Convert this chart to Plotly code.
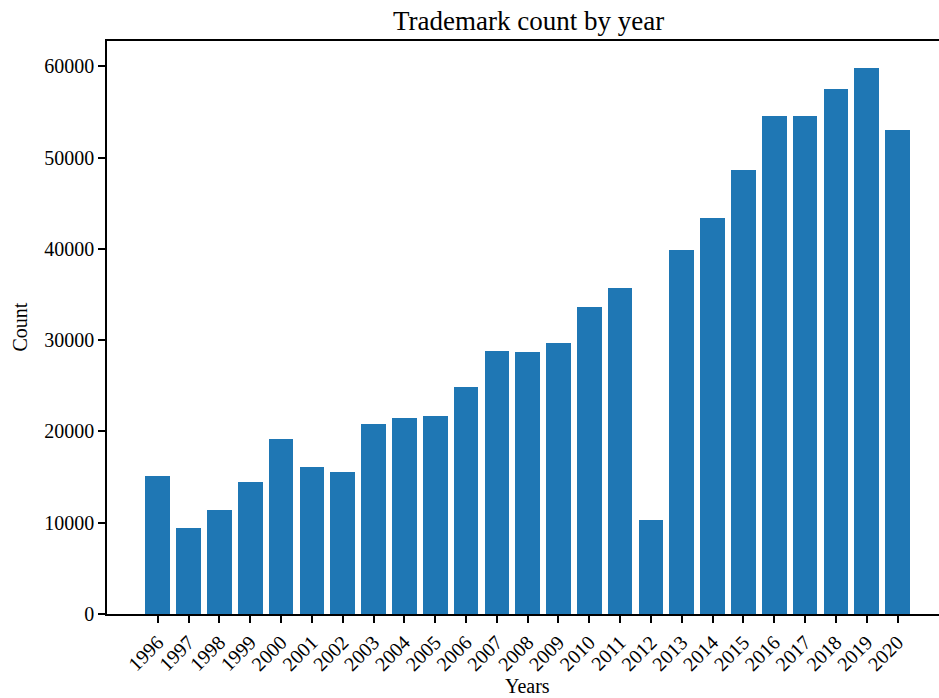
import plotly.graph_objects as go

years = [str(y) for y in range(1996, 2021)]
counts = [15120, 9420, 11390, 14460, 19180, 16110, 15560, 20820, 21480, 21700,
          24880, 28830, 28720, 29700, 33650, 35730, 10300, 39900, 43410, 48670,
          54600, 54600, 57550, 59860, 53060]
y_ticks = [0, 10000, 20000, 30000, 40000, 50000, 60000]

FONT = "Liberation Serif"
W, H = 939, 698
PL, PR, PT, PB = 107, 939, 41, 614  # plot box in window pixels
L, R, T, B = PL, W - PR, PT, H - PB
TICK_SIZE = 20

fig = go.Figure()
fig.add_trace(go.Bar(x=list(range(len(years))), y=counts, width=0.8,
                     marker=dict(color="#1f77b4", line=dict(width=0))))

fig.update_layout(
    width=W, height=H,
    margin=dict(l=L, r=R, t=T, b=B, autoexpand=False),
    plot_bgcolor="white", paper_bgcolor="white",
    font=dict(family=FONT, size=TICK_SIZE, color="black"),
    showlegend=False,
    bargap=0,
)
fig.update_xaxes(
    range=[-1.648, 25.346], automargin=False,
    tickmode="array", tickvals=list(range(len(years))), ticktext=years,
    tickangle=-45, ticks="outside", ticklen=7, tickwidth=1.6, tickcolor="black",
    showline=True, linecolor="black", linewidth=1.6, mirror=True,
    showgrid=False, zeroline=False,
    tickfont=dict(family=FONT, size=TICK_SIZE),
)
fig.update_yaxes(
    range=[0, 62790], automargin=False,
    tickmode="array", tickvals=y_ticks, ticktext=[str(v) for v in y_ticks],
    ticks="outside", ticklen=7, tickwidth=1.6, tickcolor="black",
    showline=True, linecolor="black", linewidth=1.6, mirror=False,
    showgrid=False, zeroline=False,
    tickfont=dict(family=FONT, size=TICK_SIZE),
)
pw = PR - PL
fig.add_annotation(text="Trademark count by year", xref="paper", yref="paper",
                   x=(528.5 - PL) / pw, y=1, yshift=PT - 21, showarrow=False,
                   font=dict(family=FONT, size=27), xanchor="center", yanchor="middle")
fig.add_annotation(text="Count", xref="paper", yref="paper",
                   x=0, xshift=-(PL - 19), y=0.5, textangle=-90, showarrow=False,
                   font=dict(family=FONT, size=TICK_SIZE), xanchor="center", yanchor="middle")
fig.add_annotation(text="Years", xref="paper", yref="paper",
                   x=(527 - PL) / pw, y=0, yshift=-(686 - PB), showarrow=False,
                   font=dict(family=FONT, size=TICK_SIZE), xanchor="center", yanchor="middle")

fig.write_html("out.html",
               config={"displayModeBar": False},
               post_script="document.body.style.margin='0';"
                           "document.body.style.overflow='hidden';")
